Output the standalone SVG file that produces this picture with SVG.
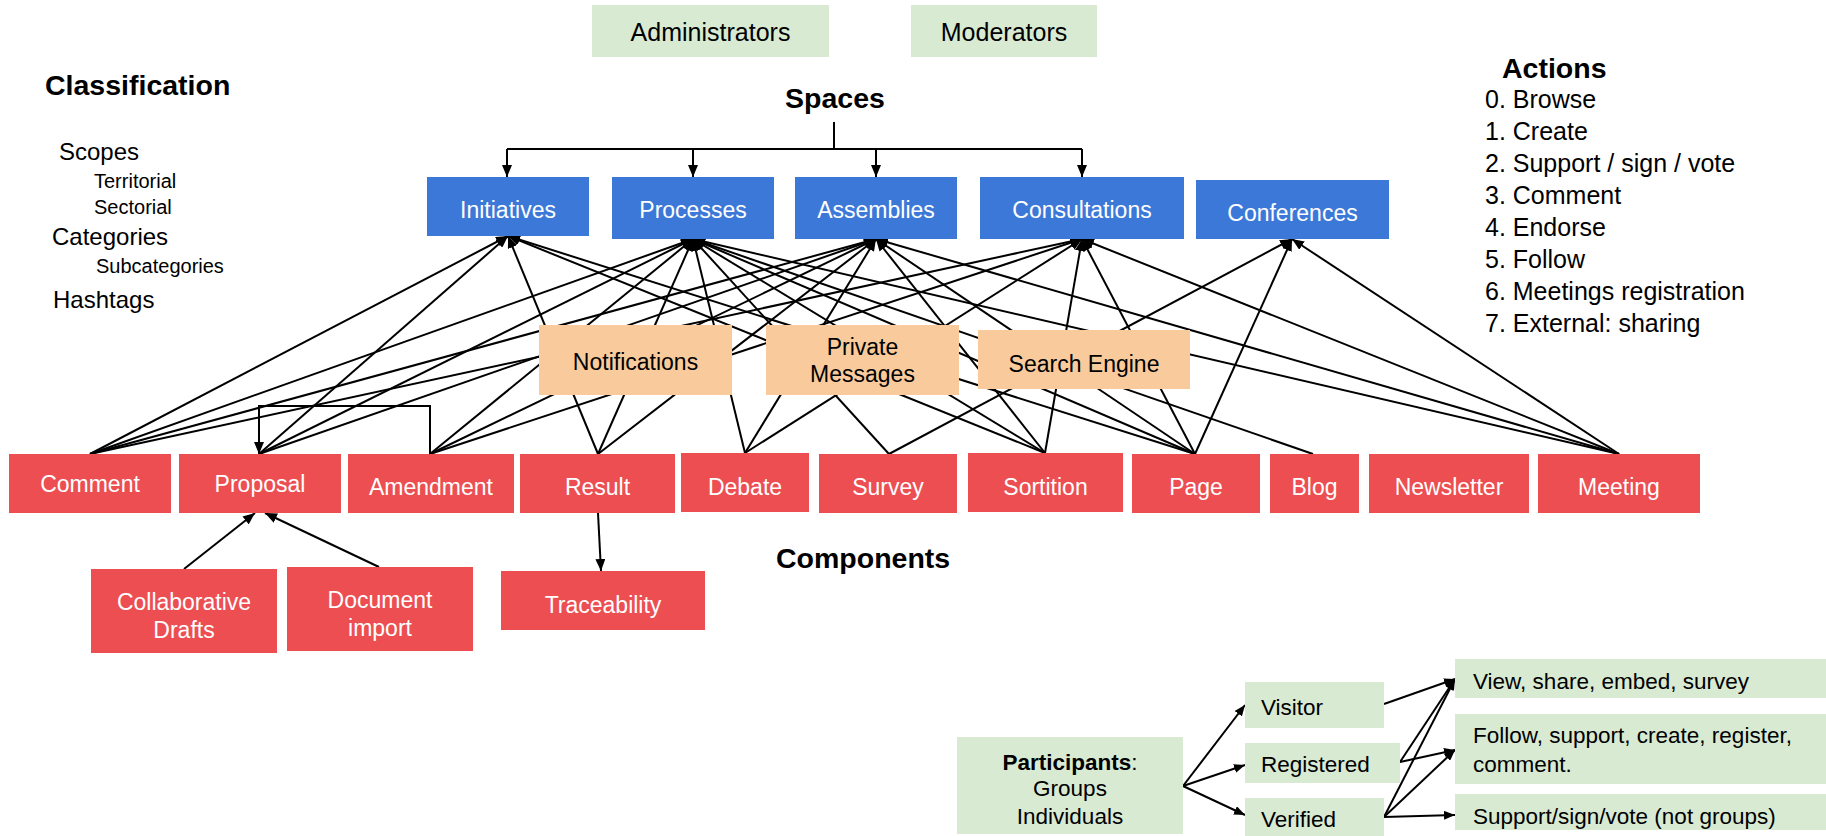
<svg xmlns="http://www.w3.org/2000/svg" width="1826" height="836" viewBox="0 0 1826 836">
<defs>
<marker id="ah" viewBox="0 0 12 10" refX="12" refY="5" markerWidth="12" markerHeight="10" markerUnits="userSpaceOnUse" orient="auto"><path d="M0,0 L12,5 L0,10 z" fill="#000"/></marker>
<marker id="ahs" viewBox="0 0 11 9" refX="11" refY="4.5" markerWidth="11" markerHeight="9" markerUnits="userSpaceOnUse" orient="auto"><path d="M0,0 L11,4.5 L0,9 z" fill="#000"/></marker>
</defs>
<style>
text{font-family:"Liberation Sans",Arial,sans-serif;fill:#000}
.lbl{font-size:23px;text-anchor:middle}
.w{fill:#fff}
.h{font-size:28.5px;font-weight:bold}
.li{font-size:25px}
.cl{font-size:24px}
.cs{font-size:20px}
.ps{font-size:22.5px}
.space rect{fill:#3c78d8}
.comp rect{fill:#ec4e52}
.svc rect{fill:#f9cb9c}
.role rect{fill:#d9ead3}
#connectors line,#connectors polyline{stroke:#000;stroke-width:2;fill:none}
#connectors .m line,#connectors .m polyline{marker-end:url(#ah)}
#connectors .p line{marker-end:url(#ahs)}
</style>
<rect width="1826" height="836" fill="#fff"/>

<g id="connectors">
  <polyline points="834,122 834,149"/>
  <polyline points="507,149 1082,149"/>
  <g class="m">
    <line x1="507" y1="149" x2="507" y2="177"/>
    <line x1="693" y1="149" x2="693" y2="177"/>
    <line x1="876" y1="149" x2="876" y2="177"/>
    <line x1="1082" y1="149" x2="1082" y2="177"/>
    <!-- Comment -->
    <line x1="90" y1="454" x2="508" y2="236"/>
    <line x1="90" y1="454" x2="693" y2="239"/>
    <line x1="90" y1="454" x2="876" y2="239"/>
    <line x1="90" y1="454" x2="1082" y2="239"/>
    <!-- Proposal -->
    <line x1="259" y1="454" x2="508" y2="236"/>
    <line x1="259" y1="454" x2="693" y2="239"/>
    <line x1="259" y1="454" x2="876" y2="239"/>
    <!-- Amendment -->
    <line x1="430" y1="454" x2="693" y2="239"/>
    <line x1="430" y1="454" x2="876" y2="239"/>
    <line x1="430" y1="454" x2="1082" y2="239"/>
    <!-- Result -->
    <line x1="598" y1="454" x2="508" y2="236"/>
    <line x1="598" y1="454" x2="693" y2="239"/>
    <line x1="598" y1="454" x2="876" y2="239"/>
    <!-- Debate -->
    <line x1="745" y1="453" x2="693" y2="239"/>
    <line x1="745" y1="453" x2="876" y2="239"/>
    <line x1="745" y1="453" x2="1082" y2="239"/>
    <!-- Survey -->
    <line x1="889" y1="454" x2="693" y2="239"/>
    <line x1="889" y1="454" x2="1292" y2="239"/>
    <!-- Sortition -->
    <line x1="1045" y1="453" x2="508" y2="236"/>
    <line x1="1045" y1="453" x2="693" y2="239"/>
    <line x1="1045" y1="453" x2="876" y2="239"/>
    <line x1="1045" y1="453" x2="1082" y2="239"/>
    <!-- Page -->
    <line x1="1195" y1="454" x2="508" y2="236"/>
    <line x1="1195" y1="454" x2="693" y2="239"/>
    <line x1="1195" y1="454" x2="876" y2="239"/>
    <line x1="1195" y1="454" x2="1082" y2="239"/>
    <line x1="1195" y1="454" x2="1292" y2="239"/>
    <!-- Blog -->
    <line x1="1313" y1="454" x2="693" y2="239"/>
    <!-- Meeting -->
    <line x1="1619" y1="454" x2="693" y2="239"/>
    <line x1="1619" y1="454" x2="876" y2="239"/>
    <line x1="1619" y1="454" x2="1082" y2="239"/>
    <line x1="1619" y1="454" x2="1292" y2="239"/>
    <!-- Amendment to Proposal -->
    <polyline points="430,454 430,406 259,406 259,454"/>
    <!-- sub components -->
    <line x1="184" y1="569" x2="255" y2="513"/>
    <line x1="379" y1="567" x2="265" y2="513"/>
    <line x1="598" y1="513" x2="601" y2="571"/>
  </g>
  <g class="p">
    <line x1="1183" y1="786" x2="1245" y2="705"/>
    <line x1="1183" y1="786" x2="1245" y2="765"/>
    <line x1="1183" y1="786" x2="1245" y2="815"/>
    <line x1="1384" y1="704" x2="1455" y2="679"/>
    <line x1="1400" y1="762" x2="1455" y2="679"/>
    <line x1="1400" y1="762" x2="1455" y2="750"/>
    <line x1="1384" y1="817" x2="1455" y2="679"/>
    <line x1="1384" y1="817" x2="1455" y2="750"/>
    <line x1="1384" y1="817" x2="1455" y2="815"/>
  </g>
</g>

<!-- headings -->
<text id="classification" class="h" x="45" y="95">Classification</text>
<text id="spaces-title" class="h" x="835" y="108" text-anchor="middle">Spaces</text>
<text id="actions-title" class="h" x="1502" y="78">Actions</text>
<text id="components-title" class="h" x="776" y="568">Components</text>

<g id="classification-list">
  <text class="cl" x="59" y="160">Scopes</text>
  <text class="cs" x="94" y="188">Territorial</text>
  <text class="cs" x="94" y="214">Sectorial</text>
  <text class="cl" x="52" y="245">Categories</text>
  <text class="cs" x="96" y="273">Subcategories</text>
  <text class="cl" x="53" y="308">Hashtags</text>
</g>

<g id="actions-list">
  <text class="li" x="1485" y="108">0. Browse</text>
  <text class="li" x="1485" y="140">1. Create</text>
  <text class="li" x="1485" y="172">2. Support / sign / vote</text>
  <text class="li" x="1485" y="204">3. Comment</text>
  <text class="li" x="1485" y="236">4. Endorse</text>
  <text class="li" x="1485" y="268">5. Follow</text>
  <text class="li" x="1485" y="300">6. Meetings registration</text>
  <text class="li" x="1485" y="332">7. External: sharing</text>
</g>

<!-- roles -->
<g id="administrators" class="role"><rect x="592" y="5" width="237" height="52"/><text class="lbl" x="710.5" y="41" style="font-size:25px">Administrators</text></g>
<g id="moderators" class="role"><rect x="911" y="5" width="186" height="52"/><text class="lbl" x="1004" y="41" style="font-size:25px">Moderators</text></g>

<!-- spaces -->
<g id="initiatives" class="space"><rect x="427" y="177" width="162" height="59"/><text class="lbl w" x="508" y="218">Initiatives</text></g>
<g id="processes" class="space"><rect x="612" y="177" width="162" height="62"/><text class="lbl w" x="693" y="218">Processes</text></g>
<g id="assemblies" class="space"><rect x="795" y="177" width="162" height="62"/><text class="lbl w" x="876" y="218">Assemblies</text></g>
<g id="consultations" class="space"><rect x="980" y="177" width="204" height="62"/><text class="lbl w" x="1082" y="218">Consultations</text></g>
<g id="conferences" class="space"><rect x="1196" y="180" width="193" height="59"/><text class="lbl w" x="1292.5" y="221">Conferences</text></g>

<!-- services -->
<g id="notifications" class="svc"><rect x="539" y="325" width="193" height="70"/><text class="lbl" x="635.5" y="370">Notifications</text></g>
<g id="private-messages" class="svc"><rect x="766" y="325" width="193" height="70"/><text class="lbl" x="862.5" y="355">Private</text><text class="lbl" x="862.5" y="382">Messages</text></g>
<g id="search-engine" class="svc"><rect x="978" y="330" width="212" height="59"/><text class="lbl" x="1084" y="372">Search Engine</text></g>

<!-- components -->
<g id="comment" class="comp"><rect x="9" y="454" width="162" height="59"/><text class="lbl w" x="90" y="492">Comment</text></g>
<g id="proposal" class="comp"><rect x="179" y="454" width="162" height="59"/><text class="lbl w" x="260" y="492">Proposal</text></g>
<g id="amendment" class="comp"><rect x="348" y="454" width="166" height="59"/><text class="lbl w" x="431" y="495">Amendment</text></g>
<g id="result" class="comp"><rect x="520" y="454" width="155" height="59"/><text class="lbl w" x="597.5" y="495">Result</text></g>
<g id="debate" class="comp"><rect x="681" y="453" width="128" height="59"/><text class="lbl w" x="745" y="495">Debate</text></g>
<g id="survey" class="comp"><rect x="819" y="454" width="138" height="59"/><text class="lbl w" x="888" y="495">Survey</text></g>
<g id="sortition" class="comp"><rect x="968" y="453" width="155" height="59"/><text class="lbl w" x="1045.5" y="495">Sortition</text></g>
<g id="page" class="comp"><rect x="1132" y="454" width="128" height="59"/><text class="lbl w" x="1196" y="495">Page</text></g>
<g id="blog" class="comp"><rect x="1270" y="454" width="89" height="59"/><text class="lbl w" x="1314.5" y="495">Blog</text></g>
<g id="newsletter" class="comp"><rect x="1369" y="454" width="160" height="59"/><text class="lbl w" x="1449" y="495">Newsletter</text></g>
<g id="meeting" class="comp"><rect x="1538" y="454" width="162" height="59"/><text class="lbl w" x="1619" y="495">Meeting</text></g>
<g id="collaborative-drafts" class="comp"><rect x="91" y="569" width="186" height="84"/><text class="lbl w" x="184" y="610">Collaborative</text><text class="lbl w" x="184" y="638">Drafts</text></g>
<g id="document-import" class="comp"><rect x="287" y="567" width="186" height="84"/><text class="lbl w" x="380" y="608">Document</text><text class="lbl w" x="380" y="636">import</text></g>
<g id="traceability" class="comp"><rect x="501" y="571" width="204" height="59"/><text class="lbl w" x="603" y="613">Traceability</text></g>

<!-- participants -->
<g id="participants" class="role"><rect x="957" y="737" width="226" height="97"/>
  <text class="ps" x="1070" y="770" text-anchor="middle"><tspan font-weight="bold">Participants</tspan>:</text>
  <text class="ps" x="1070" y="796" text-anchor="middle">Groups</text>
  <text class="ps" x="1070" y="824" text-anchor="middle">Individuals</text>
</g>
<g id="visitor" class="role"><rect x="1245" y="682" width="139" height="46"/><text class="ps" x="1261" y="715">Visitor</text></g>
<g id="registered" class="role"><rect x="1245" y="743" width="155" height="40"/><text class="ps" x="1261" y="772">Registered</text></g>
<g id="verified" class="role"><rect x="1245" y="798" width="139" height="38"/><text class="ps" x="1261" y="827">Verified</text></g>
<g id="view-share" class="role"><rect x="1455" y="659" width="371" height="39"/><text class="ps" x="1473" y="689">View, share, embed, survey</text></g>
<g id="follow-support" class="role"><rect x="1455" y="714" width="371" height="70"/><text class="ps" x="1473" y="743">Follow, support, create, register,</text><text class="ps" x="1473" y="772">comment.</text></g>
<g id="support-sign" class="role"><rect x="1455" y="794" width="371" height="36"/><text class="ps" x="1473" y="824">Support/sign/vote (not groups)</text></g>
</svg>
